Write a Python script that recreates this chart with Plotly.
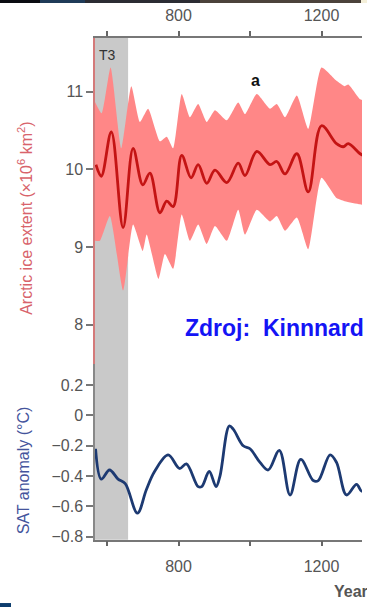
import plotly.graph_objects as go

W, H = 367, 613

# Arctic sea-ice extent reconstruction (x10^6 km^2)
ice_years = [569, 584, 612, 645, 673, 700, 720, 748, 767, 785, 809, 835, 855, 879,
             902, 935, 967, 986, 1019, 1056, 1075, 1098, 1131, 1163, 1200, 1242,
             1261, 1275, 1308, 1320]
ice_mean = [10.06, 9.91, 10.48, 9.25, 10.27, 9.80, 9.95, 9.44, 9.59, 9.52, 10.18, 9.89,
            10.06, 9.82, 9.99, 9.83, 10.08, 9.92, 10.23, 10.06, 10.10, 9.94, 10.20,
            9.71, 10.56, 10.33, 10.29, 10.33, 10.20, 10.17]

band_up_years = [566, 585, 610, 640, 668, 692, 715, 748, 767, 785, 809, 832, 855, 879,
                 902, 935, 967, 986, 1019, 1056, 1075, 1098, 1131, 1163, 1200, 1242,
                 1265, 1275, 1308, 1320]
band_up = [10.87, 10.72, 11.31, 10.27, 11.07, 10.61, 10.78, 10.36, 10.42, 10.27, 10.97,
           10.67, 10.84, 10.61, 10.76, 10.63, 10.86, 10.71, 10.97, 10.78, 10.84, 10.67,
           10.95, 10.52, 11.31, 11.14, 11.07, 11.09, 10.90, 10.88]

band_lo_years = [566, 580, 608, 645, 673, 700, 711, 744, 762, 785, 809, 832, 855, 879,
                 902, 935, 967, 986, 1019, 1056, 1075, 1098, 1131, 1163, 1200, 1242,
                 1265, 1308, 1320]
band_lo = [9.08, 9.08, 9.40, 8.44, 9.29, 8.95, 9.16, 8.59, 8.91, 8.72, 9.42, 9.08, 9.29,
           9.04, 9.27, 9.08, 9.48, 9.16, 9.48, 9.33, 9.40, 9.21, 9.38, 8.97, 9.89, 9.63,
           9.59, 9.55, 9.54]

# Surface air temperature anomaly (deg C)
sat_years = [568, 584, 607, 631, 651, 685, 710, 733, 771, 803, 822, 855, 865, 886, 905,
             916, 942, 953, 981, 1000, 1028, 1051, 1082, 1112, 1142, 1177, 1191, 1224,
             1242, 1270, 1298, 1312, 1320]
sat_vals = [-0.22, -0.42, -0.36, -0.42, -0.45, -0.645, -0.49, -0.37, -0.26, -0.35, -0.32,
            -0.47, -0.47, -0.37, -0.47, -0.40, -0.07, -0.09, -0.20, -0.22, -0.31, -0.36,
            -0.23, -0.525, -0.29, -0.43, -0.43, -0.26, -0.31, -0.525, -0.455, -0.50, -0.49]

# T3 interval shading and axis ticks
t3_span = [566, 659]
year_label_ticks = [800, 1200]
year_minor_ticks = [600, 1000]
ice_ticks = [8, 9, 10, 11]
sat_ticks = [-0.8, -0.6, -0.4, -0.2, 0, 0.2]

X_RANGE = [566.4, 1313.3]


def px(x):
    return x / W


def py(y):
    return 1 - y / H


fig = go.Figure()

# uncertainty envelope
fig.add_trace(go.Scatter(
    x=band_up_years + band_lo_years[::-1],
    y=band_up + band_lo[::-1],
    fill="toself", fillcolor="#ff8787",
    line=dict(width=0, shape="spline", smoothing=0.5),
    mode="lines", hoverinfo="skip", showlegend=False,
    xaxis="x", yaxis="y",
))
fig.add_trace(go.Scatter(
    x=ice_years, y=ice_mean, mode="lines",
    line=dict(color="#c41414", width=2.8, shape="spline", smoothing=1.0),
    showlegend=False, xaxis="x", yaxis="y",
))
fig.add_trace(go.Scatter(
    x=sat_years, y=sat_vals, mode="lines",
    line=dict(color="#1d3a72", width=2.8, shape="spline", smoothing=1.0),
    showlegend=False, xaxis="x2", yaxis="y2",
))

tick_font = dict(family="Liberation Sans, Arial, sans-serif", size=16, color="#555555")


def year_axis(domain_anchor, side, standoff):
    return dict(
        domain=[px(95), px(362)], anchor=domain_anchor, side=side, range=X_RANGE,
        tickvals=year_label_ticks, ticks="outside", ticklen=5,
        tickcolor="#666666", tickwidth=1.5, showline=True, linecolor="#777777",
        linewidth=1.5, showgrid=False, zeroline=False, tickfont=tick_font,
        ticklabelstandoff=standoff,
        minor=dict(tickvals=year_minor_ticks, ticks="outside", ticklen=5,
                   tickcolor="#666666", tickwidth=1.5, showgrid=False),
    )


fig.update_layout(
    width=W, height=H,
    margin=dict(l=0, r=0, t=0, b=0),
    paper_bgcolor="white", plot_bgcolor="rgba(0,0,0,0)",
    xaxis=year_axis("y", "top", 3),
    yaxis=dict(
        domain=[py(368), py(38)], anchor="x", range=[7.49, 11.694],
        tickvals=ice_ticks, ticks="outside", ticklen=7, tickcolor="#777777",
        tickwidth=1.5, showline=True, linecolor="#d47a7a", linewidth=1.5,
        showgrid=False, zeroline=False, tickfont=tick_font,
    ),
    xaxis2=year_axis("y2", "bottom", 6),
    yaxis2=dict(
        domain=[py(545), py(368)], anchor="x2", range=[-0.82, 0.337],
        tickvals=sat_ticks, ticks="outside", ticklen=7, tickcolor="#777777",
        tickwidth=1.5, showline=True, linecolor="#888888", linewidth=1.5,
        showgrid=False, zeroline=False, tickfont=tick_font,
    ),
)

shapes = [
    # T3 interval, spanning both panels
    dict(type="rect", xref="x", yref="paper", x0=t3_span[0], x1=t3_span[1],
         y0=py(545), y1=py(38), fillcolor="#c9c9c9", line=dict(width=0), layer="below"),
    # dark strip along the top edge
    dict(type="rect", xref="paper", yref="paper", x0=0, x1=px(40), y0=py(3), y1=1,
         fillcolor="#0b0c12", line=dict(width=0)),
    dict(type="rect", xref="paper", yref="paper", x0=px(40), x1=px(85), y0=py(3), y1=1,
         fillcolor="#1f3b58", line=dict(width=0)),
    dict(type="rect", xref="paper", yref="paper", x0=px(85), x1=px(200), y0=py(3), y1=1,
         fillcolor="#2b2c33", line=dict(width=0)),
    dict(type="rect", xref="paper", yref="paper", x0=px(200), x1=px(361), y0=py(3), y1=1,
         fillcolor="#4b423b", line=dict(width=0)),
    dict(type="rect", xref="paper", yref="paper", x0=px(361), x1=1, y0=py(3), y1=1,
         fillcolor="#f4efd8", line=dict(width=0)),
    # small navy block at the bottom-left corner
    dict(type="rect", xref="paper", yref="paper", x0=0, x1=px(11), y0=0, y1=py(609),
         fillcolor="#0d3d6e", line=dict(width=0)),
]
fig.update_layout(shapes=shapes)

base = "Liberation Sans, Arial, sans-serif"
annotations = [
    dict(text="Arctic ice extent (×10<sup>6</sup> km<sup>2</sup>)", x=px(25), y=py(221),
         textangle=-90, font=dict(family=base, size=16, color="#d8636b")),
    dict(text="SAT anomaly (°C)", x=px(23), y=py(475),
         textangle=-90, font=dict(family=base, size=16, color="#44549c")),
    dict(text="T3", x=px(97), y=py(56), xanchor="left",
         font=dict(family=base, size=14, color="#333333")),
    dict(text="<b>a</b>", x=px(255), y=py(81),
         font=dict(family=base, size=16, color="#111111")),
    dict(text="<b>Zdroj:  Kinnnard</b>", x=px(183), y=py(331), xanchor="left",
         font=dict(family=base, size=23, color="#1414f5")),
    dict(text="<b>Year</b>", x=px(332), y=py(597), xanchor="left",
         font=dict(family=base, size=16, color="#555555")),
]
for a in annotations:
    a.update(xref="paper", yref="paper", showarrow=False)
    a.setdefault("xanchor", "center")
    a.setdefault("yanchor", "middle")
fig.update_layout(annotations=annotations)

fig.write_html("out.html")
